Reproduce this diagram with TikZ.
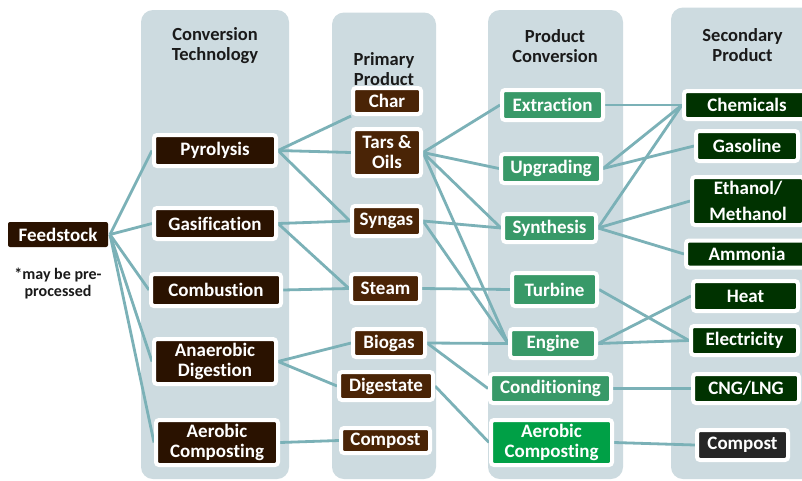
\documentclass[tikz,border=0pt]{standalone}
\usepackage{fontspec}
\setmainfont{Carlito}[Ligatures=NoCommon]
\definecolor{colbg}{HTML}{CDDBE0}
\definecolor{cA}{HTML}{2A1200}
\definecolor{cB}{HTML}{4A2406}
\definecolor{cC}{HTML}{389968}
\definecolor{cCb}{HTML}{00A046}
\definecolor{cD}{HTML}{003200}
\definecolor{cE}{HTML}{262626}
\definecolor{lnk}{HTML}{7BB1B7}
\definecolor{hdr}{HTML}{1A1A1A}
\pgfdeclarelayer{cols}
\pgfdeclarelayer{lines}
\pgfsetlayers{cols,lines,main}
\tikzset{
  box/.style={draw=white, line width=4pt, rounded corners=3pt, text=white, inner sep=0pt, align=center,
    font=\fontsize{19}{20}\selectfont\bfseries},
  bA/.style={box, fill=cA},
  bB/.style={box, fill=cB},
  bC/.style={box, fill=cC},
  bCb/.style={box, fill=cCb},
  bD/.style={box, fill=cD},
  bE/.style={box, fill=cE},
  hd/.style={text=hdr, align=center, inner sep=0pt, font=\fontsize{18.5}{20}\selectfont\bfseries},
  col/.style={fill=colbg, rounded corners=12pt},
  lk/.style={draw=lnk, line width=2.8pt}
}
\begin{document}
\begin{tikzpicture}[x=1pt,y=-1pt]
\useasboundingbox (0,0) rectangle (802,480);
\begin{pgfonlayer}{cols}
\fill[white] (0,0) rectangle (802,480);
\fill[col] (141,10) rectangle (289,479);
\fill[col] (332,12.5) rectangle (436,479);
\fill[col] (488,10) rectangle (623,479);
\fill[col] (671,7.5) rectangle (830,479);
\end{pgfonlayer}
% headers
\node[hd] (h1) at (215,46) {Conversion\\Technology};
\node[hd] (h2) at (384,69.5) {Primary\\Product};
\node[hd] (h3) at (555,46.5) {Product\\Conversion};
\node[hd] (h4) at (742.5,45) {Secondary\\Product};
% feedstock
\node[box, draw=none, fill=cA, rounded corners=2pt, minimum width=100pt, minimum height=25pt] (feed) at (58,234.5) {Feedstock};
\node[text=hdr, align=center, inner sep=0pt, font=\fontsize{16}{17.5}\selectfont\bfseries] (note) at (58,283.5) {*may be pre-\\processed};
% column 1
\node[bA, minimum width=122pt, minimum height=31pt] (pyro) at (215,150.5) {Pyrolysis};
\node[bA, minimum width=122pt, minimum height=31pt] (gasi) at (215,223.5) {Gasification};
\node[bA, minimum width=130pt, minimum height=32pt] (comb) at (216,290) {Combustion};
\node[bA, minimum width=122pt, minimum height=45pt] (anae) at (215,361.5) {Anaerobic\\Digestion};
\node[bA, minimum width=122pt, minimum height=45pt] (aero) at (217,442.5) {Aerobic\\Composting};
% column 2
\node[bB, minimum width=68pt, minimum height=26pt] (char) at (387,101) {Char};
\node[bB, minimum width=68pt, minimum height=47pt] (tars) at (387,152.5) {Tars \&\\Oils};
\node[bB, minimum width=69pt, minimum height=30pt] (syng) at (386.5,221) {Syngas};
\node[bB, minimum width=69pt, minimum height=29pt] (steam) at (385.5,288.5) {Steam};
\node[bB, minimum width=72pt, minimum height=28pt] (biog) at (389,343) {Biogas};
\node[bB, minimum width=94pt, minimum height=28pt] (dige) at (386,386) {Digestate};
\node[bB, minimum width=89pt, minimum height=25pt] (compa) at (385.5,440.5) {Compost};
% column 3
\node[bC, minimum width=101pt, minimum height=30pt] (extr) at (552.5,105) {Extraction};
\node[bC, minimum width=100pt, minimum height=29pt] (upgr) at (551,168.5) {Upgrading};
\node[bC, minimum width=93pt, minimum height=28pt] (synt) at (549.5,228) {Synthesis};
\node[bC, minimum width=85pt, minimum height=33pt] (turb) at (554.5,289.5) {Turbine};
\node[bC, minimum width=86pt, minimum height=29pt] (engi) at (553,343.5) {Engine};
\node[bC, minimum width=121pt, minimum height=29pt] (cond) at (550.5,388.5) {Conditioning};
\node[bCb, minimum width=121pt, minimum height=45pt] (aerob) at (551.5,442.5) {Aerobic\\Composting};
% column 4
\node[bD, minimum width=126pt, minimum height=28pt] (chem) at (747,105) {Chemicals};
\node[bD, minimum width=102pt, minimum height=30pt] (gaso) at (747,146) {Gasoline};
\node[bD, minimum width=112pt, minimum height=48pt] (etha) at (748,201) {Ethanol/\\[6pt]Methanol};
\node[bD, minimum width=122pt, minimum height=27pt] (ammo) at (747,254) {Ammonia};
\node[bD, minimum width=105pt, minimum height=30pt] (heat) at (745.5,296) {Heat};
\node[bD, minimum width=107pt, minimum height=29pt] (elec) at (744.5,340.5) {Electricity};
\node[bD, minimum width=106pt, minimum height=29pt] (cng) at (746,388.5) {CNG/LNG};
\node[bE, minimum width=91pt, minimum height=30pt] (compb) at (742.5,445) {Compost};
% connectors
\begin{pgfonlayer}{lines}
\foreach \t in {pyro,gasi,comb,anae,aero} \draw[lk] (feed.east) -- (\t.west);
\draw[lk] (pyro.east) -- (char.south west);
\draw[lk] (pyro.east) -- (tars.west);
\draw[lk] (pyro.east) -- (syng.west);
\draw[lk] (gasi.east) -- (syng.west);
\draw[lk] (gasi.east) -- (steam.west);
\draw[lk] (comb.east) -- (steam.west);
\draw[lk] (anae.east) -- (biog.west);
\draw[lk] (anae.east) -- (dige.west);
\draw[lk] (aero.east) -- (compa.west);
\draw[lk] (tars.east) -- (extr.west);
\draw[lk] (tars.east) -- (upgr.west);
\draw[lk] (tars.east) -- (synt.west);
\draw[lk] (tars.east) -- (engi.west);
\draw[lk] (syng.east) -- (synt.west);
\draw[lk] (syng.east) -- (engi.west);
\draw[lk] (steam.east) -- (turb.west);
\draw[lk] (biog.east) -- (engi.west);
\draw[lk] (biog.east) -- (cond.west);
\draw[lk] (dige.east) -- (aerob.west);
\draw[lk] (extr.east) -- (chem.west);
\draw[lk] (upgr.east) -- (chem.west);
\draw[lk] (upgr.east) -- (gaso.west);
\draw[lk] (synt.east) -- (chem.west);
\draw[lk] (synt.east) -- (etha.west);
\draw[lk] (synt.east) -- (ammo.west);
\draw[lk] (turb.east) -- (elec.west);
\draw[lk] (engi.east) -- (heat.west);
\draw[lk] (engi.east) -- (elec.west);
\draw[lk] (cond.east) -- (cng.west);
\draw[lk] (aerob.east) -- (compb.west);
\end{pgfonlayer}
\end{tikzpicture}
\end{document}
